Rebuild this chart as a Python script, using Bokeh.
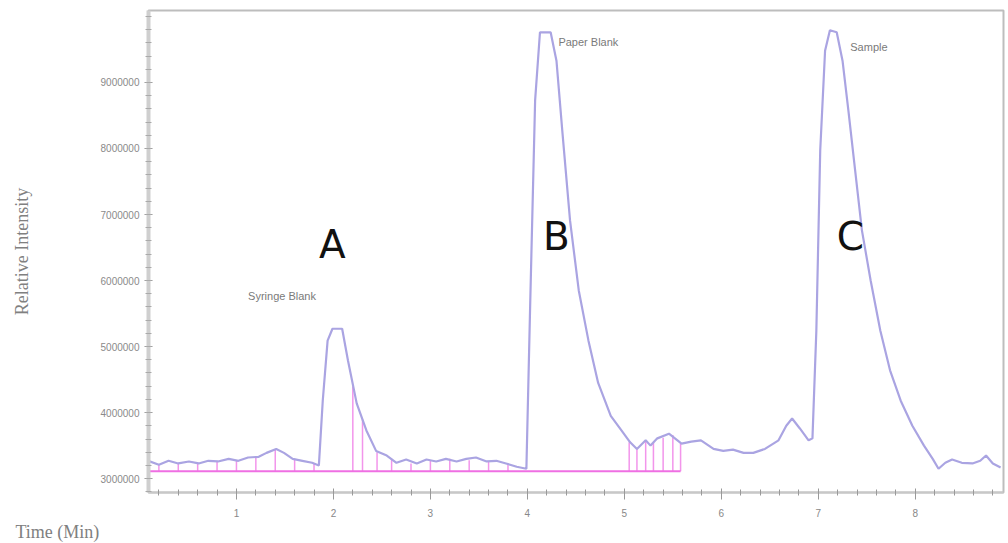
from bokeh.plotting import figure
from bokeh.models import Range1d, FixedTicker, Title, NumeralTickFormatter
from bokeh.core.properties import value
from bokeh.embed import file_html
from bokeh.resources import INLINE

# Chromatogram trace (time in minutes, relative intensity)
time_min = [0.09, 0.20, 0.30, 0.40, 0.51, 0.61, 0.71, 0.81, 0.92, 1.02, 1.12, 1.23, 1.31, 1.41, 1.49,
            1.58, 1.68, 1.78, 1.85, 1.89, 1.94, 1.99, 2.09, 2.15, 2.24, 2.34, 2.44, 2.55, 2.65, 2.75,
            2.86, 2.96, 3.06, 3.16, 3.27, 3.37, 3.47, 3.58, 3.68, 3.78, 3.89, 3.99, 4.03, 4.08, 4.13,
            4.24, 4.30, 4.36, 4.44, 4.53, 4.63, 4.73, 4.86, 4.97, 5.06, 5.13, 5.22, 5.27, 5.34, 5.46,
            5.59, 5.69, 5.79, 5.92, 6.02, 6.12, 6.23, 6.33, 6.45, 6.59, 6.67, 6.73, 6.81, 6.90, 6.94,
            6.98, 7.02, 7.07, 7.12, 7.19, 7.25, 7.31, 7.38, 7.45, 7.54, 7.64, 7.74, 7.85, 7.97, 8.09,
            8.18, 8.24, 8.31, 8.38, 8.48, 8.59, 8.67, 8.73, 8.80, 8.88]
intensity = [3270000, 3210000, 3270000, 3230000, 3260000, 3230000, 3270000, 3260000, 3300000, 3270000,
             3320000, 3330000, 3390000, 3450000, 3390000, 3300000, 3270000, 3240000, 3200000, 4180000,
             5090000, 5270000, 5270000, 4790000, 4140000, 3730000, 3420000, 3350000, 3240000, 3290000,
             3230000, 3290000, 3260000, 3300000, 3260000, 3300000, 3320000, 3260000, 3270000, 3230000,
             3180000, 3150000, 5700000, 8730000, 9760000, 9760000, 9330000, 8270000, 6910000, 5850000,
             5090000, 4450000, 3950000, 3730000, 3550000, 3450000, 3580000, 3500000, 3610000, 3680000,
             3530000, 3560000, 3580000, 3450000, 3420000, 3440000, 3390000, 3390000, 3450000, 3580000,
             3800000, 3910000, 3760000, 3580000, 3610000, 5240000, 7970000, 9480000, 9790000, 9760000,
             9330000, 8580000, 7670000, 6760000, 6000000, 5240000, 4640000, 4180000, 3800000, 3500000,
             3300000, 3150000, 3240000, 3290000, 3240000, 3230000, 3270000, 3350000, 3230000, 3170000]

# Integration baseline and drop lines
baseline_t = [0.09, 5.58]
baseline_v = [3110000, 3110000]
drop_t = [0.20, 0.40, 0.60, 0.80, 1.00, 1.20, 1.40, 1.60, 1.80, 2.20, 2.30, 2.45,
          2.60, 2.80, 3.00, 3.20, 3.40, 3.60, 3.80, 5.05, 5.13, 5.22, 5.30, 5.40, 5.50, 5.58]
drop_top = [3210000, 3230000, 3230000, 3260000, 3270000, 3330000, 3440000, 3300000, 3230000, 4400000,
            3900000, 3400000, 3300000, 3230000, 3280000, 3300000, 3280000, 3260000, 3230000, 3550000,
            3450000, 3580000, 3550000, 3620000, 3660000, 3530000]

# Annotations
letter_t = [1.99, 4.30, 7.33]
letter_v = [6540000, 6660000, 6660000]
letter_text = ["A", "B", "C"]
name_t = [1.12, 4.32, 7.33]
name_v = [5770000, 9610000, 9530000]
name_text = ["Syringe Blank", "Paper Blank", "Sample"]

x_ticks = [1, 2, 3, 4, 5, 6, 7, 8]
y_ticks = [3000000, 4000000, 5000000, 6000000, 7000000, 8000000, 9000000]

p = figure(width=1008, height=543, output_backend="svg", toolbar_location=None,
           x_range=Range1d(0.093, 8.91), y_range=Range1d(2790000, 10090000),
           min_border_left=148, min_border_right=5, min_border_top=10, min_border_bottom=51)
p.xgrid.visible = False
p.ygrid.visible = False
p.outline_line_color = "#bdbdbd"
p.outline_line_width = 2
p.background_fill_color = "white"
p.border_fill_color = "white"

p.segment(x0=drop_t, y0=[baseline_v[0]] * len(drop_t), x1=drop_t, y1=drop_top,
          line_color="#ef7be6", line_width=1.5, line_alpha=0.8)
p.line(baseline_t, baseline_v, line_color="#ef6fe3", line_width=2)
p.line(time_min, intensity, line_color="#aaa4e2", line_width=2.2)

p.text(x=letter_t, y=letter_v, text=letter_text, text_align="center", text_baseline="middle",
       text_font=value("DejaVu Sans"), text_font_size="39px", text_color="#111111")
p.text(x=name_t, y=name_v, text=name_text, text_align="left", text_baseline="middle",
       text_font=value("Liberation Sans"), text_font_size="11px", text_color="#7a7a7a")

xa = p.xaxis[0]
xa.ticker = FixedTicker(ticks=x_ticks, minor_ticks=[i / 5 for i in range(1, 45)])
xa.major_label_text_font_size = "10px"
xa.major_label_text_color = "#888888"
xa.axis_line_color = "#c8c8c8"
xa.axis_line_width = 2
xa.major_tick_line_color = "#999999"
xa.minor_tick_line_color = "#999999"
xa.major_tick_in = 4
xa.major_tick_out = 7
xa.minor_tick_in = 3
xa.minor_tick_out = 3
xa.major_label_standoff = 9

ya = p.yaxis[0]
ya.ticker = FixedTicker(ticks=y_ticks, minor_ticks=[2800000 + i * 200000 for i in range(37)])
ya.formatter = NumeralTickFormatter(format="0")
ya.major_label_text_font_size = "10px"
ya.major_label_text_color = "#8a8a8a"
ya.axis_line_color = "#cfcfcf"
ya.axis_line_width = 4
ya.major_tick_line_color = "#999999"
ya.minor_tick_line_color = "#aaaaaa"
ya.major_tick_in = 4
ya.major_tick_out = 4
ya.minor_tick_in = 3
ya.minor_tick_out = 3
ya.axis_label = "Relative Intensity"
ya.axis_label_text_font = "Liberation Serif"
ya.axis_label_text_font_style = "normal"
ya.axis_label_text_font_size = "18px"
ya.axis_label_text_color = "#808080"
ya.axis_label_standoff = 66

p.add_layout(Title(text="Time (Min)", align="left", offset=-133, standoff=0,
                   text_font="Liberation Serif", text_font_style="normal",
                   text_font_size="18px", text_color="#808080"), "below")

open("out.html", "w").write(file_html(p, INLINE))
